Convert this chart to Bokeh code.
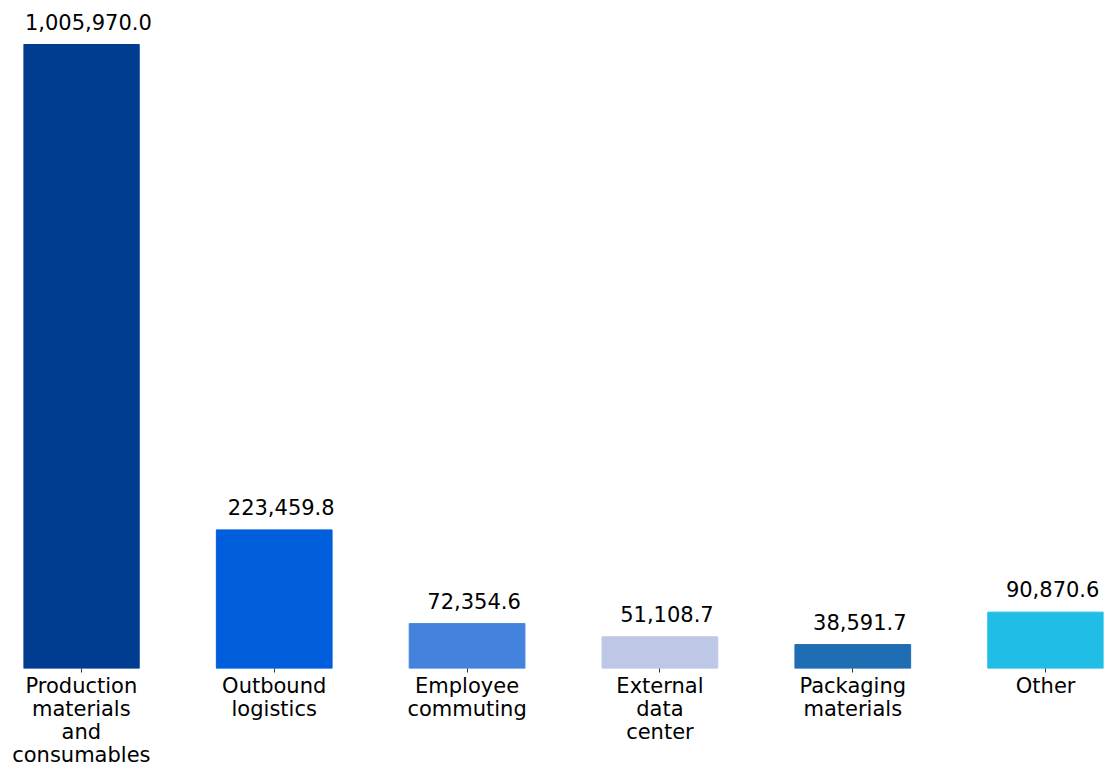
from bokeh.plotting import figure
from bokeh.models import ColumnDataSource, Range1d, FixedTicker
from bokeh.core.properties import value
from bokeh.embed import file_html
from bokeh.resources import INLINE

categories = ["Production\nmaterials\nand\nconsumables", "Outbound\nlogistics",
              "Employee\ncommuting", "External\ndata\ncenter", "Packaging\nmaterials", "Other"]
values = [1005970.0, 223459.8, 72354.6, 51108.7, 38591.7, 90870.6]
colors = ["#003C8F", "#005EDC", "#4383DE", "#BEC8E6", "#1F6EB4", "#20BEE6"]

idx = list(range(len(categories)))
labels = ["{:,.1f}".format(v) for v in values]
src = ColumnDataSource(dict(x=idx, top=values, color=colors, label=labels))

FONT = "DejaVu Sans"
p = figure(frame_width=1080, frame_height=658, output_backend="svg", toolbar_location=None,
           x_range=Range1d(-0.3, 5.3), y_range=Range1d(0, 1005970.0 * 658 / 624),
           min_border_left=23, min_border_right=5, min_border_top=10, min_border_bottom=100)
p.outline_line_color = None
p.xgrid.visible = False
p.ygrid.visible = False
p.yaxis.visible = False

p.vbar(x="x", top="top", width=0.6, bottom=0, color="color", source=src)
p.text(x="x", y="top", text="label", source=src, text_align="center", text_baseline="alphabetic",
       x_offset=7, y_offset=-23, text_font=value(FONT), text_font_size="21px", text_color="black")

ax = p.xaxis[0]
ax.ticker = FixedTicker(ticks=idx)
ax.major_label_overrides = {i: c for i, c in zip(idx, categories)}
ax.axis_line_color = None
ax.minor_tick_line_color = None
ax.major_tick_in = 0
ax.major_tick_out = 4
ax.major_tick_line_color = "#333333"
ax.major_tick_line_width = 1
ax.major_label_standoff = 1
ax.major_label_text_font = FONT
ax.major_label_text_font_size = "21px"
ax.major_label_text_color = "black"
ax.major_label_text_line_height = 0.97

open("out.html", "w").write(file_html(p, INLINE))
